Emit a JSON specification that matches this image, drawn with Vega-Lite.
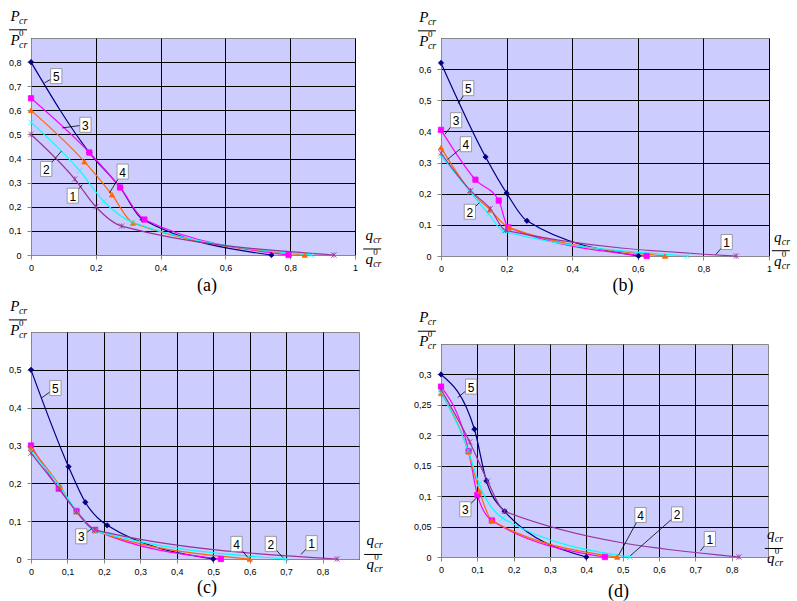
{
"$schema":"https://vega.github.io/schema/vega-lite/v6.json",
"padding":{"left":7,"top":8,"right":5,"bottom":5},
"background":"white",
"datasets":{
"curves":[
{"p":"a","s":"5","x":0,"y":0.8},{"p":"a","s":"5","x":0.18,"y":0.425},{"p":"a","s":"5","x":0.275,"y":0.28},{"p":"a","s":"5","x":0.345,"y":0.147},{"p":"a","s":"5","x":0.742,"y":0},
{"p":"a","s":"3","x":0,"y":0.65},{"p":"a","s":"3","x":0.18,"y":0.425},{"p":"a","s":"3","x":0.275,"y":0.28},{"p":"a","s":"3","x":0.35,"y":0.147},{"p":"a","s":"3","x":0.795,"y":0},
{"p":"a","s":"4","x":0,"y":0.6},{"p":"a","s":"4","x":0.165,"y":0.387},{"p":"a","s":"4","x":0.25,"y":0.25},{"p":"a","s":"4","x":0.315,"y":0.133},{"p":"a","s":"4","x":0.845,"y":0},
{"p":"a","s":"2","x":0,"y":0.55},{"p":"a","s":"2","x":0.15,"y":0.35},{"p":"a","s":"2","x":0.225,"y":0.222},{"p":"a","s":"2","x":0.315,"y":0.135},{"p":"a","s":"2","x":0.865,"y":0},
{"p":"a","s":"1","x":0,"y":0.5},{"p":"a","s":"1","x":0.135,"y":0.315},{"p":"a","s":"1","x":0.2,"y":0.2},{"p":"a","s":"1","x":0.28,"y":0.12},{"p":"a","s":"1","x":0.935,"y":0},
{"p":"b","s":"5","x":0,"y":0.62},{"p":"b","s":"5","x":0.136,"y":0.318},{"p":"b","s":"5","x":0.2,"y":0.202},{"p":"b","s":"5","x":0.262,"y":0.113},{"p":"b","s":"5","x":0.602,"y":0},
{"p":"b","s":"3","x":0,"y":0.405},{"p":"b","s":"3","x":0.105,"y":0.245},{"p":"b","s":"3","x":0.176,"y":0.178},{"p":"b","s":"3","x":0.205,"y":0.092},{"p":"b","s":"3","x":0.627,"y":0},
{"p":"b","s":"4","x":0,"y":0.348},{"p":"b","s":"4","x":0.089,"y":0.209},{"p":"b","s":"4","x":0.15,"y":0.148},{"p":"b","s":"4","x":0.208,"y":0.091},{"p":"b","s":"4","x":0.683,"y":0},
{"p":"b","s":"2","x":0,"y":0.322},{"p":"b","s":"2","x":0.09,"y":0.205},{"p":"b","s":"2","x":0.145,"y":0.135},{"p":"b","s":"2","x":0.19,"y":0.08},{"p":"b","s":"2","x":0.751,"y":0},
{"p":"b","s":"1","x":0,"y":0.33},{"p":"b","s":"1","x":0.09,"y":0.21},{"p":"b","s":"1","x":0.15,"y":0.152},{"p":"b","s":"1","x":0.197,"y":0.082},{"p":"b","s":"1","x":0.9,"y":0},
{"p":"c","s":"5","x":0,"y":0.5},{"p":"c","s":"5","x":0.103,"y":0.244},{"p":"c","s":"5","x":0.149,"y":0.15},{"p":"c","s":"5","x":0.209,"y":0.089},{"p":"c","s":"5","x":0.5,"y":0},
{"p":"c","s":"3","x":0,"y":0.3},{"p":"c","s":"3","x":0.076,"y":0.186},{"p":"c","s":"3","x":0.125,"y":0.127},{"p":"c","s":"3","x":0.176,"y":0.077},{"p":"c","s":"3","x":0.521,"y":0},
{"p":"c","s":"4","x":0,"y":0.293},{"p":"c","s":"4","x":0.08,"y":0.192},{"p":"c","s":"4","x":0.125,"y":0.125},{"p":"c","s":"4","x":0.175,"y":0.075},{"p":"c","s":"4","x":0.6,"y":0},
{"p":"c","s":"2","x":0,"y":0.285},{"p":"c","s":"2","x":0.08,"y":0.19},{"p":"c","s":"2","x":0.125,"y":0.127},{"p":"c","s":"2","x":0.175,"y":0.075},{"p":"c","s":"2","x":0.7,"y":0},
{"p":"c","s":"1","x":0,"y":0.28},{"p":"c","s":"1","x":0.077,"y":0.186},{"p":"c","s":"1","x":0.125,"y":0.125},{"p":"c","s":"1","x":0.175,"y":0.077},{"p":"c","s":"1","x":0.84,"y":0},
{"p":"d","s":"5","x":0,"y":0.3},{"p":"d","s":"5","x":0.092,"y":0.21},{"p":"d","s":"5","x":0.125,"y":0.125},{"p":"d","s":"5","x":0.175,"y":0.075},{"p":"d","s":"5","x":0.4,"y":0},
{"p":"d","s":"3","x":0,"y":0.28},{"p":"d","s":"3","x":0.076,"y":0.174},{"p":"d","s":"3","x":0.1,"y":0.102},{"p":"d","s":"3","x":0.14,"y":0.06},{"p":"d","s":"3","x":0.451,"y":0},
{"p":"d","s":"4","x":0,"y":0.269},{"p":"d","s":"4","x":0.075,"y":0.173},{"p":"d","s":"4","x":0.106,"y":0.108},{"p":"d","s":"4","x":0.14,"y":0.06},{"p":"d","s":"4","x":0.485,"y":0},
{"p":"d","s":"2","x":0,"y":0.27},{"p":"d","s":"2","x":0.075,"y":0.175},{"p":"d","s":"2","x":0.105,"y":0.12},{"p":"d","s":"2","x":0.17,"y":0.064},{"p":"d","s":"2","x":0.52,"y":0},
{"p":"d","s":"1","x":0,"y":0.275},{"p":"d","s":"1","x":0.079,"y":0.189},{"p":"d","s":"1","x":0.128,"y":0.125},{"p":"d","s":"1","x":0.175,"y":0.075},{"p":"d","s":"1","x":0.82,"y":0}
],
"labels":[
{"p":"a","s":"5","x":0.078,"y":0.742,"x2":0.042,"y2":0.714},
{"p":"a","s":"3","x":0.168,"y":0.54,"x2":0.096,"y2":0.527},
{"p":"a","s":"2","x":0.047,"y":0.357,"x2":0.094,"y2":0.431},
{"p":"a","s":"1","x":0.129,"y":0.246,"x2":0.158,"y2":0.291},
{"p":"a","s":"4","x":0.283,"y":0.346,"x2":0.242,"y2":0.257},
{"p":"b","s":"5","x":0.083,"y":0.539,"x2":0.053,"y2":0.49},
{"p":"b","s":"3","x":0.046,"y":0.436,"x2":0.012,"y2":0.391},
{"p":"b","s":"4","x":0.076,"y":0.359,"x2":0.02,"y2":0.31},
{"p":"b","s":"2","x":0.088,"y":0.142,"x2":0.117,"y2":0.171},
{"p":"b","s":"1","x":0.871,"y":0.045,"x2":0.838,"y2":0.005},
{"p":"c","s":"5","x":0.067,"y":0.452,"x2":0.028,"y2":0.425},
{"p":"c","s":"3","x":0.138,"y":0.06,"x2":0.167,"y2":0.08},
{"p":"c","s":"4","x":0.564,"y":0.04,"x2":0.595,"y2":0.004},
{"p":"c","s":"2","x":0.658,"y":0.04,"x2":0.692,"y2":0.003},
{"p":"c","s":"1","x":0.77,"y":0.042,"x2":0.741,"y2":0.012},
{"p":"d","s":"5","x":0.083,"y":0.28,"x2":0.046,"y2":0.262},
{"p":"d","s":"3","x":0.067,"y":0.0785,"x2":0.099,"y2":0.098},
{"p":"d","s":"4","x":0.549,"y":0.069,"x2":0.489,"y2":0.003},
{"p":"d","s":"2","x":0.65,"y":0.07,"x2":0.521,"y2":0.002},
{"p":"d","s":"1","x":0.74,"y":0.0296,"x2":0.714,"y2":0.01}
],
"titles":[
{"p":"a","L":"P","x":-0.04,"y":0.934},{"p":"a","L":"q","x":1.053,"y":0.025},
{"p":"b","L":"P","x":-0.043,"y":0.723},{"p":"b","L":"q","x":1.036,"y":0.017},
{"p":"c","L":"P","x":-0.036,"y":0.632},{"p":"c","L":"q","x":0.939,"y":0.012},
{"p":"d","L":"P","x":-0.039,"y":0.371},{"p":"d","L":"q","x":0.916,"y":0.014}
]
},
"spacing":28,
"hconcat":[
{"spacing":77,"bounds":"flush","vconcat":[
{"width":324,"height":217,"title":{"text":"(a)","dx":14,"offset":5},
"encoding":{
"x":{"field":"x","type":"quantitative","scale":{"domain":[0,1],"nice":false,"zero":false},"axis":{"values":[0,0.2,0.4,0.6,0.8,1],"labelExpr":"replace(format(datum.value,'~g'),'.',',')"}},
"y":{"field":"y","type":"quantitative","scale":{"domain":[0,0.9],"nice":false,"zero":false},"axis":{"values":[0,0.1,0.2,0.3,0.4,0.5,0.6,0.7,0.8],"labelExpr":"replace(format(datum.value,'~g'),'.',',')","labelPadding":6}}},
"layer":[
{"data":{"name":"curves"},"transform":[{"filter":"datum.p=='a'"}],"mark":{"type":"line","interpolate":"monotone","strokeWidth":1.2},"encoding":{"color":{"field":"s","type":"nominal","scale":{"domain":["1","2","3","4","5"],"range":["#993399","#00FFFF","#FF00FF","#FF6600","#000080"]},"legend":null}}},
{"data":{"name":"curves"},"transform":[{"filter":"datum.p=='a'"}],"mark":{"type":"point","filled":true,"opacity":1,"strokeWidth":0.8,"size":28},"encoding":{"color":{"field":"s","type":"nominal","legend":null},"stroke":{"field":"s","type":"nominal","scale":{"domain":["1","2","3","4","5"],"range":["#993399","#00FFFF","#FF00FF","#FF6600","#000080"]},"legend":null},"shape":{"field":"s","type":"nominal","scale":{"domain":["1","2","3","4","5"],"range":["M-1,-1L1,1M-1,1L1,-1M0,-1L0,1","M-1,-1L1,1M-1,1L1,-1","square","triangle-up","diamond"]},"legend":null}}},
{"data":{"name":"labels"},"transform":[{"filter":"datum.p=='a'"}],"mark":{"type":"rule","color":"#000","strokeWidth":0.8},"encoding":{"x2":{"field":"x2"},"y2":{"field":"y2"}}},
{"data":{"name":"labels"},"transform":[{"filter":"datum.p=='a'"}],"mark":{"type":"point","shape":"M-0.75,-1H0.75V1H-0.75Z","size":225,"filled":true,"fill":"#ffffff","stroke":"#888888","strokeWidth":0.8,"opacity":1}},
{"data":{"name":"labels"},"transform":[{"filter":"datum.p=='a'"}],"mark":{"type":"text","font":"Liberation Sans","fontSize":12,"align":"center","baseline":"middle","dy":1},"encoding":{"text":{"field":"s"}}},
{"data":{"name":"titles"},"transform":[{"filter":"datum.p=='a'"}],"mark":{"type":"text","font":"Liberation Serif","fontStyle":"italic","fontSize":15,"align":"center","baseline":"alphabetic","dx":-3,"dy":-9},"encoding":{"text":{"field":"L"}}},
{"data":{"name":"titles"},"transform":[{"filter":"datum.p=='a'"}],"mark":{"type":"text","text":"cr","font":"Liberation Serif","fontStyle":"italic","fontSize":10,"align":"left","baseline":"alphabetic","dx":1,"dy":-6}},
{"data":{"name":"titles"},"transform":[{"filter":"datum.p=='a'"}],"mark":{"type":"rule","color":"#000","strokeWidth":1,"xOffset":-9,"x2Offset":9},"encoding":{"x2":{"field":"x"},"y2":{"field":"y"}}},
{"data":{"name":"titles"},"transform":[{"filter":"datum.p=='a'"}],"mark":{"type":"text","font":"Liberation Serif","fontStyle":"italic","fontSize":15,"align":"center","baseline":"alphabetic","dx":-3,"dy":15},"encoding":{"text":{"field":"L"}}},
{"data":{"name":"titles"},"transform":[{"filter":"datum.p=='a'"}],"mark":{"type":"text","text":"0","font":"Liberation Serif","fontSize":9,"align":"left","baseline":"alphabetic","dx":1,"dy":6}},
{"data":{"name":"titles"},"transform":[{"filter":"datum.p=='a'"}],"mark":{"type":"text","text":"cr","font":"Liberation Serif","fontStyle":"italic","fontSize":10,"align":"left","baseline":"alphabetic","dx":1,"dy":18}}
]},
{"width":328,"height":227,"title":{"text":"(c)","dx":12,"offset":3},
"encoding":{
"x":{"field":"x","type":"quantitative","scale":{"domain":[0,0.9],"nice":false,"zero":false},"axis":{"values":[0,0.1,0.2,0.3,0.4,0.5,0.6,0.7,0.8],"labelExpr":"replace(format(datum.value,'~g'),'.',',')"}},
"y":{"field":"y","type":"quantitative","scale":{"domain":[0,0.6],"nice":false,"zero":false},"axis":{"values":[0,0.1,0.2,0.3,0.4,0.5],"labelExpr":"replace(format(datum.value,'~g'),'.',',')","labelPadding":6}}},
"layer":[
{"data":{"name":"curves"},"transform":[{"filter":"datum.p=='c'"}],"mark":{"type":"line","interpolate":"monotone","strokeWidth":1.2},"encoding":{"color":{"field":"s","type":"nominal","scale":{"domain":["1","2","3","4","5"],"range":["#993399","#00FFFF","#FF00FF","#FF6600","#000080"]},"legend":null}}},
{"data":{"name":"curves"},"transform":[{"filter":"datum.p=='c'"}],"mark":{"type":"point","filled":true,"opacity":1,"strokeWidth":0.8,"size":28},"encoding":{"color":{"field":"s","type":"nominal","legend":null},"stroke":{"field":"s","type":"nominal","scale":{"domain":["1","2","3","4","5"],"range":["#993399","#00FFFF","#FF00FF","#FF6600","#000080"]},"legend":null},"shape":{"field":"s","type":"nominal","scale":{"domain":["1","2","3","4","5"],"range":["M-1,-1L1,1M-1,1L1,-1M0,-1L0,1","M-1,-1L1,1M-1,1L1,-1","square","triangle-up","diamond"]},"legend":null}}},
{"data":{"name":"labels"},"transform":[{"filter":"datum.p=='c'"}],"mark":{"type":"rule","color":"#000","strokeWidth":0.8},"encoding":{"x2":{"field":"x2"},"y2":{"field":"y2"}}},
{"data":{"name":"labels"},"transform":[{"filter":"datum.p=='c'"}],"mark":{"type":"point","shape":"M-0.75,-1H0.75V1H-0.75Z","size":225,"filled":true,"fill":"#ffffff","stroke":"#888888","strokeWidth":0.8,"opacity":1}},
{"data":{"name":"labels"},"transform":[{"filter":"datum.p=='c'"}],"mark":{"type":"text","font":"Liberation Sans","fontSize":12,"align":"center","baseline":"middle","dy":1},"encoding":{"text":{"field":"s"}}},
{"data":{"name":"titles"},"transform":[{"filter":"datum.p=='c'"}],"mark":{"type":"text","font":"Liberation Serif","fontStyle":"italic","fontSize":15,"align":"center","baseline":"alphabetic","dx":-3,"dy":-9},"encoding":{"text":{"field":"L"}}},
{"data":{"name":"titles"},"transform":[{"filter":"datum.p=='c'"}],"mark":{"type":"text","text":"cr","font":"Liberation Serif","fontStyle":"italic","fontSize":10,"align":"left","baseline":"alphabetic","dx":1,"dy":-6}},
{"data":{"name":"titles"},"transform":[{"filter":"datum.p=='c'"}],"mark":{"type":"rule","color":"#000","strokeWidth":1,"xOffset":-9,"x2Offset":9},"encoding":{"x2":{"field":"x"},"y2":{"field":"y"}}},
{"data":{"name":"titles"},"transform":[{"filter":"datum.p=='c'"}],"mark":{"type":"text","font":"Liberation Serif","fontStyle":"italic","fontSize":15,"align":"center","baseline":"alphabetic","dx":-3,"dy":15},"encoding":{"text":{"field":"L"}}},
{"data":{"name":"titles"},"transform":[{"filter":"datum.p=='c'"}],"mark":{"type":"text","text":"0","font":"Liberation Serif","fontSize":9,"align":"left","baseline":"alphabetic","dx":1,"dy":6}},
{"data":{"name":"titles"},"transform":[{"filter":"datum.p=='c'"}],"mark":{"type":"text","text":"cr","font":"Liberation Serif","fontStyle":"italic","fontSize":10,"align":"left","baseline":"alphabetic","dx":1,"dy":18}}
]}
]},
{"spacing":88,"bounds":"flush","vconcat":[
{"width":328,"height":218,"title":{"text":"(b)","dx":18,"offset":4},
"encoding":{
"x":{"field":"x","type":"quantitative","scale":{"domain":[0,1],"nice":false,"zero":false},"axis":{"values":[0,0.2,0.4,0.6,0.8,1],"labelExpr":"replace(format(datum.value,'~g'),'.',',')"}},
"y":{"field":"y","type":"quantitative","scale":{"domain":[0,0.7],"nice":false,"zero":false},"axis":{"values":[0,0.1,0.2,0.3,0.4,0.5,0.6],"labelExpr":"replace(format(datum.value,'~g'),'.',',')","labelPadding":6}}},
"layer":[
{"data":{"name":"curves"},"transform":[{"filter":"datum.p=='b'"}],"mark":{"type":"line","interpolate":"monotone","strokeWidth":1.2},"encoding":{"color":{"field":"s","type":"nominal","scale":{"domain":["1","2","3","4","5"],"range":["#993399","#00FFFF","#FF00FF","#FF6600","#000080"]},"legend":null}}},
{"data":{"name":"curves"},"transform":[{"filter":"datum.p=='b'"}],"mark":{"type":"point","filled":true,"opacity":1,"strokeWidth":0.8,"size":28},"encoding":{"color":{"field":"s","type":"nominal","legend":null},"stroke":{"field":"s","type":"nominal","scale":{"domain":["1","2","3","4","5"],"range":["#993399","#00FFFF","#FF00FF","#FF6600","#000080"]},"legend":null},"shape":{"field":"s","type":"nominal","scale":{"domain":["1","2","3","4","5"],"range":["M-1,-1L1,1M-1,1L1,-1M0,-1L0,1","M-1,-1L1,1M-1,1L1,-1","square","triangle-up","diamond"]},"legend":null}}},
{"data":{"name":"labels"},"transform":[{"filter":"datum.p=='b'"}],"mark":{"type":"rule","color":"#000","strokeWidth":0.8},"encoding":{"x2":{"field":"x2"},"y2":{"field":"y2"}}},
{"data":{"name":"labels"},"transform":[{"filter":"datum.p=='b'"}],"mark":{"type":"point","shape":"M-0.75,-1H0.75V1H-0.75Z","size":225,"filled":true,"fill":"#ffffff","stroke":"#888888","strokeWidth":0.8,"opacity":1}},
{"data":{"name":"labels"},"transform":[{"filter":"datum.p=='b'"}],"mark":{"type":"text","font":"Liberation Sans","fontSize":12,"align":"center","baseline":"middle","dy":1},"encoding":{"text":{"field":"s"}}},
{"data":{"name":"titles"},"transform":[{"filter":"datum.p=='b'"}],"mark":{"type":"text","font":"Liberation Serif","fontStyle":"italic","fontSize":15,"align":"center","baseline":"alphabetic","dx":-3,"dy":-9},"encoding":{"text":{"field":"L"}}},
{"data":{"name":"titles"},"transform":[{"filter":"datum.p=='b'"}],"mark":{"type":"text","text":"cr","font":"Liberation Serif","fontStyle":"italic","fontSize":10,"align":"left","baseline":"alphabetic","dx":1,"dy":-6}},
{"data":{"name":"titles"},"transform":[{"filter":"datum.p=='b'"}],"mark":{"type":"rule","color":"#000","strokeWidth":1,"xOffset":-9,"x2Offset":9},"encoding":{"x2":{"field":"x"},"y2":{"field":"y"}}},
{"data":{"name":"titles"},"transform":[{"filter":"datum.p=='b'"}],"mark":{"type":"text","font":"Liberation Serif","fontStyle":"italic","fontSize":15,"align":"center","baseline":"alphabetic","dx":-3,"dy":15},"encoding":{"text":{"field":"L"}}},
{"data":{"name":"titles"},"transform":[{"filter":"datum.p=='b'"}],"mark":{"type":"text","text":"0","font":"Liberation Serif","fontSize":9,"align":"left","baseline":"alphabetic","dx":1,"dy":6}},
{"data":{"name":"titles"},"transform":[{"filter":"datum.p=='b'"}],"mark":{"type":"text","text":"cr","font":"Liberation Serif","fontStyle":"italic","fontSize":10,"align":"left","baseline":"alphabetic","dx":1,"dy":18}}
]},
{"width":327,"height":213,"title":{"text":"(d)","dx":14,"offset":9},
"encoding":{
"x":{"field":"x","type":"quantitative","scale":{"domain":[0,0.9],"nice":false,"zero":false},"axis":{"values":[0,0.1,0.2,0.3,0.4,0.5,0.6,0.7,0.8],"labelExpr":"replace(format(datum.value,'~g'),'.',',')"}},
"y":{"field":"y","type":"quantitative","scale":{"domain":[0,0.35],"nice":false,"zero":false},"axis":{"values":[0,0.05,0.1,0.15,0.2,0.25,0.3],"labelExpr":"replace(format(datum.value,'~g'),'.',',')","labelPadding":6}}},
"layer":[
{"data":{"name":"curves"},"transform":[{"filter":"datum.p=='d'"}],"mark":{"type":"line","interpolate":"monotone","strokeWidth":1.2},"encoding":{"color":{"field":"s","type":"nominal","scale":{"domain":["1","2","3","4","5"],"range":["#993399","#00FFFF","#FF00FF","#FF6600","#000080"]},"legend":null}}},
{"data":{"name":"curves"},"transform":[{"filter":"datum.p=='d'"}],"mark":{"type":"point","filled":true,"opacity":1,"strokeWidth":0.8,"size":28},"encoding":{"color":{"field":"s","type":"nominal","legend":null},"stroke":{"field":"s","type":"nominal","scale":{"domain":["1","2","3","4","5"],"range":["#993399","#00FFFF","#FF00FF","#FF6600","#000080"]},"legend":null},"shape":{"field":"s","type":"nominal","scale":{"domain":["1","2","3","4","5"],"range":["M-1,-1L1,1M-1,1L1,-1M0,-1L0,1","M-1,-1L1,1M-1,1L1,-1","square","triangle-up","diamond"]},"legend":null}}},
{"data":{"name":"labels"},"transform":[{"filter":"datum.p=='d'"}],"mark":{"type":"rule","color":"#000","strokeWidth":0.8},"encoding":{"x2":{"field":"x2"},"y2":{"field":"y2"}}},
{"data":{"name":"labels"},"transform":[{"filter":"datum.p=='d'"}],"mark":{"type":"point","shape":"M-0.75,-1H0.75V1H-0.75Z","size":225,"filled":true,"fill":"#ffffff","stroke":"#888888","strokeWidth":0.8,"opacity":1}},
{"data":{"name":"labels"},"transform":[{"filter":"datum.p=='d'"}],"mark":{"type":"text","font":"Liberation Sans","fontSize":12,"align":"center","baseline":"middle","dy":1},"encoding":{"text":{"field":"s"}}},
{"data":{"name":"titles"},"transform":[{"filter":"datum.p=='d'"}],"mark":{"type":"text","font":"Liberation Serif","fontStyle":"italic","fontSize":15,"align":"center","baseline":"alphabetic","dx":-3,"dy":-9},"encoding":{"text":{"field":"L"}}},
{"data":{"name":"titles"},"transform":[{"filter":"datum.p=='d'"}],"mark":{"type":"text","text":"cr","font":"Liberation Serif","fontStyle":"italic","fontSize":10,"align":"left","baseline":"alphabetic","dx":1,"dy":-6}},
{"data":{"name":"titles"},"transform":[{"filter":"datum.p=='d'"}],"mark":{"type":"rule","color":"#000","strokeWidth":1,"xOffset":-9,"x2Offset":9},"encoding":{"x2":{"field":"x"},"y2":{"field":"y"}}},
{"data":{"name":"titles"},"transform":[{"filter":"datum.p=='d'"}],"mark":{"type":"text","font":"Liberation Serif","fontStyle":"italic","fontSize":15,"align":"center","baseline":"alphabetic","dx":-3,"dy":15},"encoding":{"text":{"field":"L"}}},
{"data":{"name":"titles"},"transform":[{"filter":"datum.p=='d'"}],"mark":{"type":"text","text":"0","font":"Liberation Serif","fontSize":9,"align":"left","baseline":"alphabetic","dx":1,"dy":6}},
{"data":{"name":"titles"},"transform":[{"filter":"datum.p=='d'"}],"mark":{"type":"text","text":"cr","font":"Liberation Serif","fontStyle":"italic","fontSize":10,"align":"left","baseline":"alphabetic","dx":1,"dy":18}}
]}
]}
],
"config":{
"view":{"fill":"#CCCCFF","stroke":"#888888","strokeWidth":1},
"axis":{"title":null,"grid":true,"gridColor":"#000000","gridWidth":1,"gridOpacity":1,"domainColor":"#888888","tickColor":"#888888","tickSize":4,"labelFont":"Liberation Sans","labelFontSize":9,"labelColor":"#000000","labelPadding":4,"labelFlush":false,"labelOverlap":false},
"title":{"orient":"bottom","font":"Liberation Serif","fontSize":18,"fontWeight":"normal","color":"#000000","offset":2}
}
}
